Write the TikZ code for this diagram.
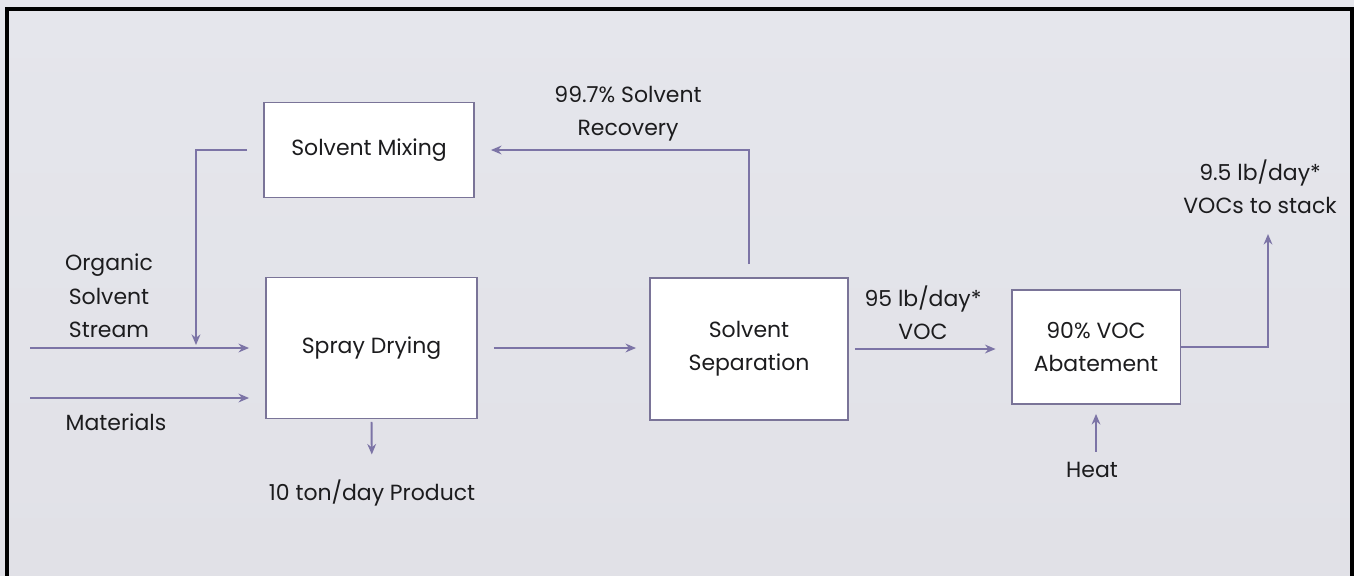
\documentclass[tikz,border=0pt]{standalone}
\usepackage{fontspec}
\setmainfont{Poppins}
\usetikzlibrary{arrows.meta}
\definecolor{flowline}{RGB}{124,116,166}
\definecolor{boxline}{RGB}{122,116,152}
\definecolor{bgtop}{RGB}{229,230,236}
\definecolor{bgmid}{RGB}{240,238,240}
\definecolor{bgbot}{RGB}{225,225,231}
\definecolor{txt}{RGB}{28,28,30}

\begin{document}
\begin{tikzpicture}[x=0.02cm,y=-0.02cm,
  every node/.style={font=\fontsize{12.5}{19}\selectfont},
  unit/.style={draw=boxline,line width=1.1pt,fill=white,align=center,text=txt,inner sep=0pt},
  flow/.style={draw=flowline,line width=1.1pt,-{Stealth[length=6pt,width=5pt]}},
  lbl/.style={align=center,text=txt,inner sep=0pt}]
\useasboundingbox (0,0) rectangle (1354,575);
\clip (0,0) rectangle (1354,575);
\shade[top color=bgtop,middle color=bgmid,bottom color=bgbot] (0,0) rectangle (1354,575);
\draw[line width=1.8pt] (7,590) -- (7,9) -- (1352,9) -- (1352,590);

% process units
\node[unit,minimum width=4.2cm,minimum height=1.9cm] (mixing) at (369,150) {Solvent Mixing};
\node[unit,minimum width=4.22cm,minimum height=2.82cm] (drying) at (371.5,348) {Spray Drying};
\node[unit,minimum width=3.96cm,minimum height=2.84cm] (separation) at (749,349) {Solvent\\Separation};
\node[unit,minimum width=3.38cm,minimum height=2.28cm] (abatement) at (1096,347) {90\% VOC\\Abatement};

% stream labels
\node[lbl] (organic) at (109,296) {Organic\\Solvent\\Stream};
\node[lbl] (materials) at (116,422) {Materials};
\node[lbl] (product) at (372,493) {10 ton/day Product};
\node[lbl] (recovery) at (628,114) {99.7\% Solvent\\Recovery};
\node[lbl] (voc) at (923,313) {95 lb/day*\\VOC};
\node[lbl] (stack) at (1260,187) {9.5 lb/day*\\VOCs to stack};
\node[lbl] (heat) at (1092,470) {Heat};

\coordinate (orgin) at (30,348);
\coordinate (matin) at (30,398);
\coordinate (join) at (196,345);
\coordinate (stackout) at (1268,234);

\draw[flow,shorten >=0.32cm] (orgin) -- (orgin -| drying.west);
\draw[flow,shorten >=0.32cm] (matin) -- (matin -| drying.west);
\draw[flow,shorten <=0.32cm] (mixing.west) -| (join);
\draw[flow,shorten <=0.05cm,shorten >=0.5cm] (drying.south) -- (product.north);
\draw[flow,shorten <=0.32cm,shorten >=0.26cm] (drying.east) -- (drying.east -| separation.west);
\draw[flow,shorten <=0.26cm,shorten >=0.32cm] (separation.north) |- (mixing.east);
\draw[flow,shorten <=0.12cm,shorten >=0.3cm] (separation.east) -- (separation.east -| abatement.west);
\draw[flow] (abatement.east) -| (stackout);
\draw[flow,shorten <=0.2cm,shorten >=0.18cm] (abatement.south |- heat.north) -- (abatement.south);
\end{tikzpicture}
\end{document}
